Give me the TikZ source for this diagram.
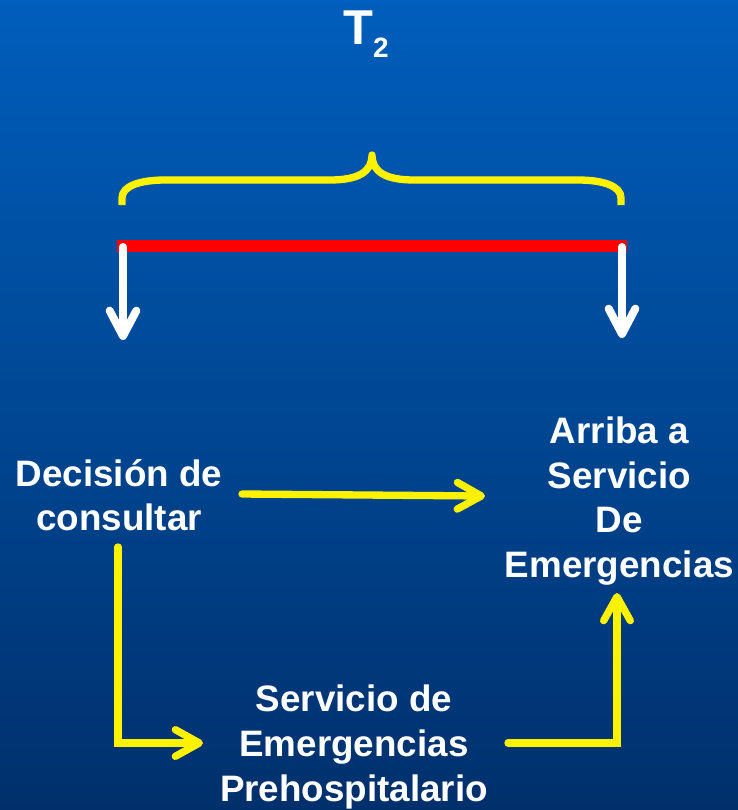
\documentclass[tikz,border=0pt]{standalone}
\usepackage{fontspec}
\setmainfont{Liberation Sans}
\usetikzlibrary{arrows.meta}
\definecolor{bgtop}{RGB}{0,94,188}
\definecolor{bgbottom}{RGB}{0,48,108}
\begin{document}
\begin{tikzpicture}[x=0.75pt, y=-0.75pt,
    etapa/.style={text=white, font=\fontsize{27.6}{33.4}\selectfont\bfseries, align=center, inner sep=0pt},
    flow/.style={draw=yellow, line width=5.5pt, line cap=round, line join=miter, -{Straight Barb[length=18pt, width=20pt, round]}},
    drop/.style={draw=white, line width=6pt, line cap=round, -{Straight Barb[length=19pt, width=20pt, round]}}]
    \fill[top color=bgtop, bottom color=bgbottom] (0,0) rectangle (738,810);
    \useasboundingbox (0,0) rectangle (738,810);
    \node[anchor=base west, inner sep=0pt, text=white, font=\fontsize{36.7}{40}\selectfont\bfseries] (T) at (343,44) {T\raisebox{-9.75pt}{\fontsize{21}{24}\selectfont 2}};
    \draw[yellow, line width=5.5pt, line join=round] (122,205) -- (122,198) .. controls (122,186) and (140,180) .. (165,180) -- (330,180) .. controls (358,180) and (372,172) .. (372,155) .. controls (372,172) and (386,180) .. (414,180) -- (578,180) .. controls (603,180) and (621,186) .. (621,198) -- (621,205);
    \coordinate (A) at (117,246);
    \coordinate (B) at (627,246);
    \draw[red, line width=9pt] (A) -- (B);
    \coordinate (A1) at (123,247);
    \coordinate (A2) at (123,340);
    \coordinate (B1) at (622,247);
    \coordinate (B2) at (622,338);
    \draw[drop] (A1) -- (A2);
    \draw[drop] (B1) -- (B2);
    \node[etapa] (decision) at (119,495) {Decisión de\\consultar};
    \node[etapa] (arribo) at (619.5,501) {Arriba a\\Servicio\\De\\Emergencias};
    \node[etapa] (prehosp) at (354,747) {Servicio de\\Emergencias\\Prehospitalario};
    \coordinate (D1) at (242,494);
    \coordinate (D2) at (485,496);
    \draw[flow] (D1) -- (D2);
    \coordinate (D3) at (118,547);
    \coordinate (P1) at (203,743);
    \draw[flow] (D3) |- (P1);
    \coordinate (P2) at (508,743);
    \coordinate (E1) at (617,593);
    \draw[flow] (P2) -| (E1);
\end{tikzpicture}
\end{document}
